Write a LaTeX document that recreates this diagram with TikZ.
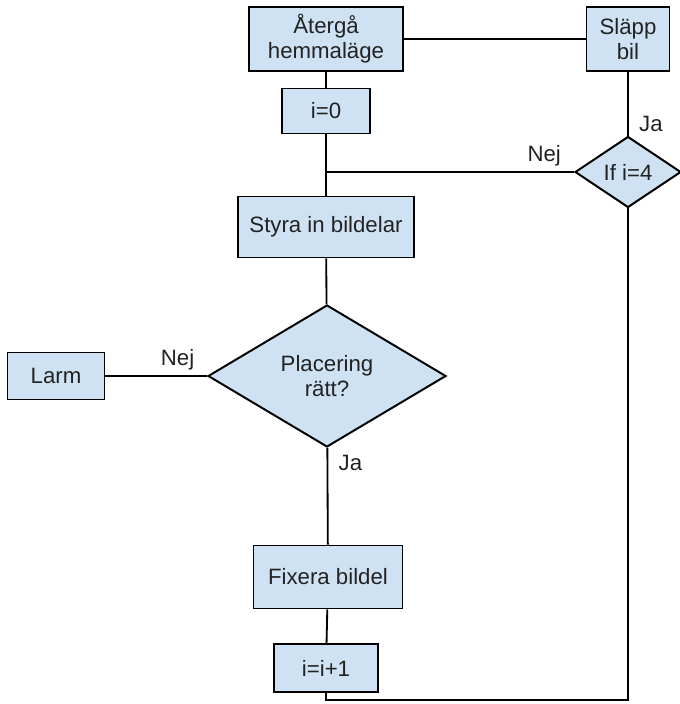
\documentclass[tikz,border=0pt]{standalone}
\usepackage{fontspec}
\setmainfont{Liberation Sans}
\usetikzlibrary{shapes.geometric}
\definecolor{boxblue}{HTML}{CFE2F3}
\definecolor{ink}{HTML}{222222}
\tikzstyle{step box}=[rectangle,draw=black,line width=1.4pt,fill=boxblue,text=ink,inner sep=0pt,align=center,font=\fontsize{15.8}{17.8}\selectfont]
\tikzstyle{choice}=[diamond,draw=black,line width=1.4pt,fill=boxblue,text=ink,inner sep=0pt,align=center,font=\fontsize{15.8}{17.8}\selectfont]
\tikzstyle{line}=[draw,line width=1.3pt]
\tikzstyle{answer}=[text=ink,font=\fontsize{15.8}{17.8}\selectfont]

\begin{document}
\begin{tikzpicture}[x=0.025cm,y=-0.025cm]

    \useasboundingbox (0,0) rectangle (679,704);

    % boxes: x/y/width/height/name/text
    \foreach \x/\y/\w/\h/\name/\txt in {326/39/154/64/aterga/{Återgå\\hemmaläge},
                                        628/39/83/64/slapp/{Släpp\\bil},
                                        326/111/88/45/nollstall/{i=0},
                                        326/227/176/61/styra/{Styra in bildelar},
                                        56/376/97/47/larm/{Larm},
                                        328/577/149/63/fixera/{Fixera bildel},
                                        326/668/104/48/oka/{i=i+1}}
        \node[step box, minimum width=\w*0.025cm, minimum height=\h*0.025cm] (\name) at (\x,\y) {\txt};

    \node[choice, minimum width=106*0.025cm, minimum height=71*0.025cm] (klar) at (628,172) {If i=4};
    \node[choice, minimum width=238*0.025cm, minimum height=142*0.025cm] (placering) at (327,376) {Placering\\rätt?};

    \coordinate (mote) at (326,172);
    \coordinate (botten) at (628,700);

    \path[line] (aterga) -- (slapp);
    \path[line] (aterga) -- (nollstall);
    \path[line] (nollstall) -- (styra);
    \path[line] (styra) -- (placering);
    \path[line] (fixera) -- (oka);
    \path[line] (slapp) -- node[answer, pos=0.82, right=4pt] {Ja} (klar);
    \path[line] (klar.west) -- node[answer, pos=0.12, above] {Nej} (mote);
    \path[line] (placering) -- node[answer, pos=0.29, above] {Nej} (larm);
    \path[line] (placering) -- node[answer, pos=0.16, right=4pt] {Ja} (fixera);
    \path[line] (oka.south) |- (botten) -- (klar.south);

\end{tikzpicture}
\end{document}
